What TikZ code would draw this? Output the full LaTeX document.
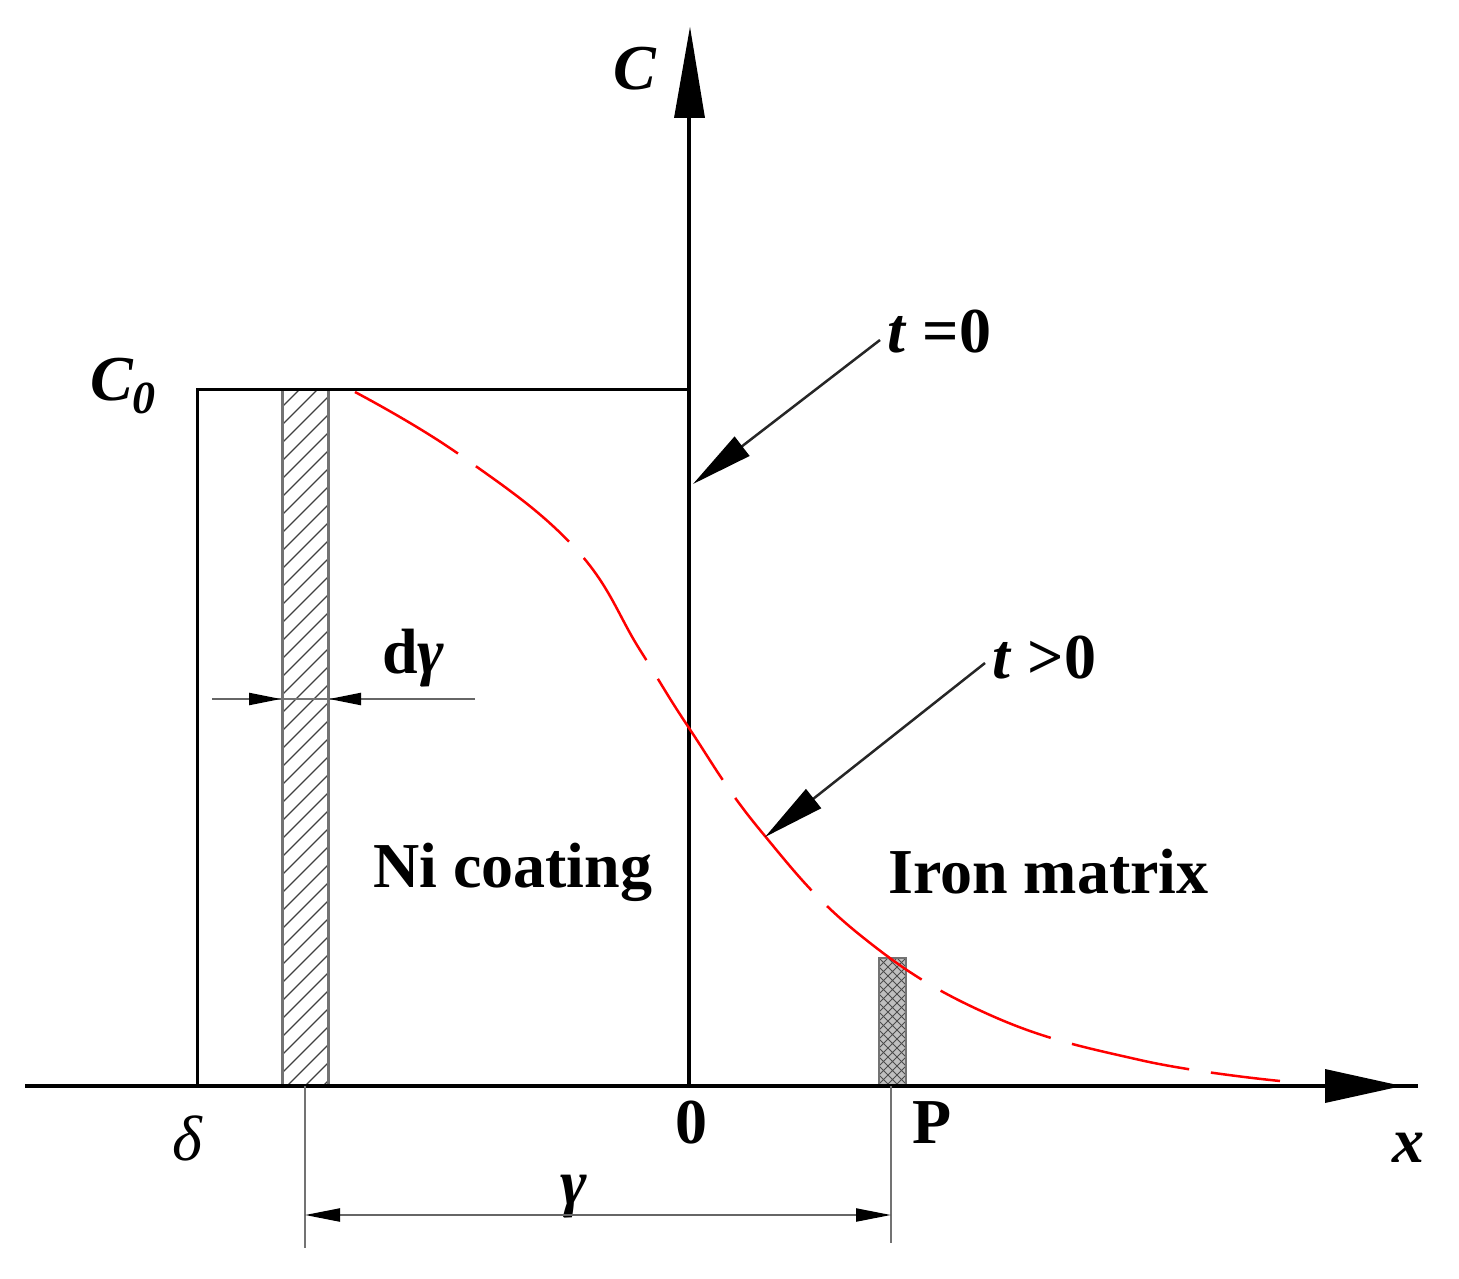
\documentclass[tikz,border=0pt]{standalone}
\usepackage{fontspec}
\setmainfont{Liberation Serif}
\usetikzlibrary{arrows.meta}
\begin{document}
\begin{tikzpicture}[x=1pt,y=-1pt,
  lbl/.style={font=\fontsize{64}{70}\selectfont\bfseries, inner sep=0pt},
  ilbl/.style={font=\fontsize{64}{70}\selectfont\bfseries\itshape, inner sep=0pt},
  axis/.style={line width=4pt, black},
  frame/.style={line width=3pt, black},
  thin gray/.style={line width=2.2pt, black!55},
  leader/.style={line width=2.5pt, black!85, -{Triangle[length=62pt,width=24pt,fill=black,color=black]}},
  dimarrow/.style={line width=2.2pt, black!60, -{Triangle[length=32pt,width=12pt,fill=black,color=black]}},
  curve/.style={red, line width=2.5pt, dash pattern=on 120pt off 22pt}
]
\useasboundingbox (0,0) rectangle (1459,1279);

% hatched strip
\begin{scope}
  \clip (282,389) rectangle (328,1086);
  \foreach \i in {0,...,42}
    \draw[line width=1.2pt, black!75] (282,389+\i*18) -- ++(46,-46);
\end{scope}
\draw[line width=3pt, black!55] (282,389) -- (282,1086) (328,389) -- (328,1086);

% crosshatched small strip
\begin{scope}
  \clip (879,958) rectangle (906,1086);
  \fill[black!25] (879,958) rectangle (906,1086);
  \foreach \i in {0,...,20}
    \draw[line width=1pt, black!70] (879,958+\i*9) -- ++(27,-27)
                                    (879,958+\i*9-27) -- ++(27,27);
\end{scope}
\draw[line width=2.5pt, black!55] (879,958) rectangle (906,1086);

% rectangle (coating region)
\draw[frame] (197,1086) -- (197,389) -- (689,389);

% axes
\coordinate (xs) at (25,1086);
\coordinate (xe) at (1418,1086);
\coordinate (cs) at (689,1086);
\coordinate (ce) at (689,118);
\draw[axis] (xs) -- (xe);
\fill (1325,1069) -- (1402,1086) -- (1325,1103) -- cycle;
\draw[line width=3.5pt] (cs) -- (ce);
\fill (674,118) -- (690,27) -- (705,118) -- cycle;

% red curve
\draw[curve] plot[smooth, tension=0.7] coordinates {
 (355,392) (460,455) (575,548) (640,650) (689,728) (760,830)
 (860,935) (990,1015) (1140,1060) (1280,1081)};

% labels
\node[ilbl, anchor=base west] (Clab) at (613,90) {C};
\node[ilbl, anchor=base west] (C0) at (90,400) {C\raisebox{-13pt}{\fontsize{46}{46}\selectfont 0}};
\node[lbl, anchor=base west] (t0) at (887,352) {\textit{t} =0};
\node[lbl, anchor=base west] (t1) at (992,678) {\textit{t} \mbox{>}0};
\node[lbl, anchor=base west] (dg) at (382,673) {d\textit{γ}};
\node[lbl, anchor=base west] (ni) at (373,887) {Ni coating};
\node[lbl, anchor=base west] (fe) at (888,893) {Iron matrix};
\node[anchor=base west, inner sep=0pt, font=\fontsize{64}{70}\selectfont\itshape] (delta) at (172,1160) {δ};
\node[lbl, anchor=base west] (zero) at (675,1143) {0};
\node[lbl, anchor=base west] (P) at (912,1143) {P};
\node[ilbl, anchor=base west] (xl) at (1392,1162) {x};
\node[ilbl, anchor=base west] (gl) at (560,1204) {γ};

% leaders
\coordinate (t0s) at (880,340);
\coordinate (t0e) at (693,484);
\coordinate (t1s) at (985,663);
\coordinate (t1e) at (765,837);
\draw[leader] (t0s) -- (t0e);
\draw[leader] (t1s) -- (t1e);

% d gamma dimension
\coordinate (dL) at (212,699);
\coordinate (dLe) at (281,699);
\coordinate (dR) at (475,699);
\coordinate (dRe) at (329,699);
\draw[thin gray] (dL) -- (dR);
\draw[dimarrow] (dL) -- (dLe);
\draw[dimarrow] (dR) -- (dRe);

% gamma dimension
\coordinate (g1) at (305,1086);
\coordinate (g1b) at (305,1248);
\coordinate (g2) at (891,1086);
\coordinate (g2b) at (891,1243);
\draw[thin gray] (g1) -- (g1b);
\draw[thin gray] (g2) -- (g2b);
\coordinate (gA) at (305,1215);
\coordinate (gB) at (891,1215);
\draw[line width=2.2pt, black!60, {Triangle[length=35pt,width=13pt,fill=black,color=black]}-{Triangle[length=35pt,width=13pt,fill=black,color=black]}] (gA) -- (gB);
\end{tikzpicture}
\end{document}
